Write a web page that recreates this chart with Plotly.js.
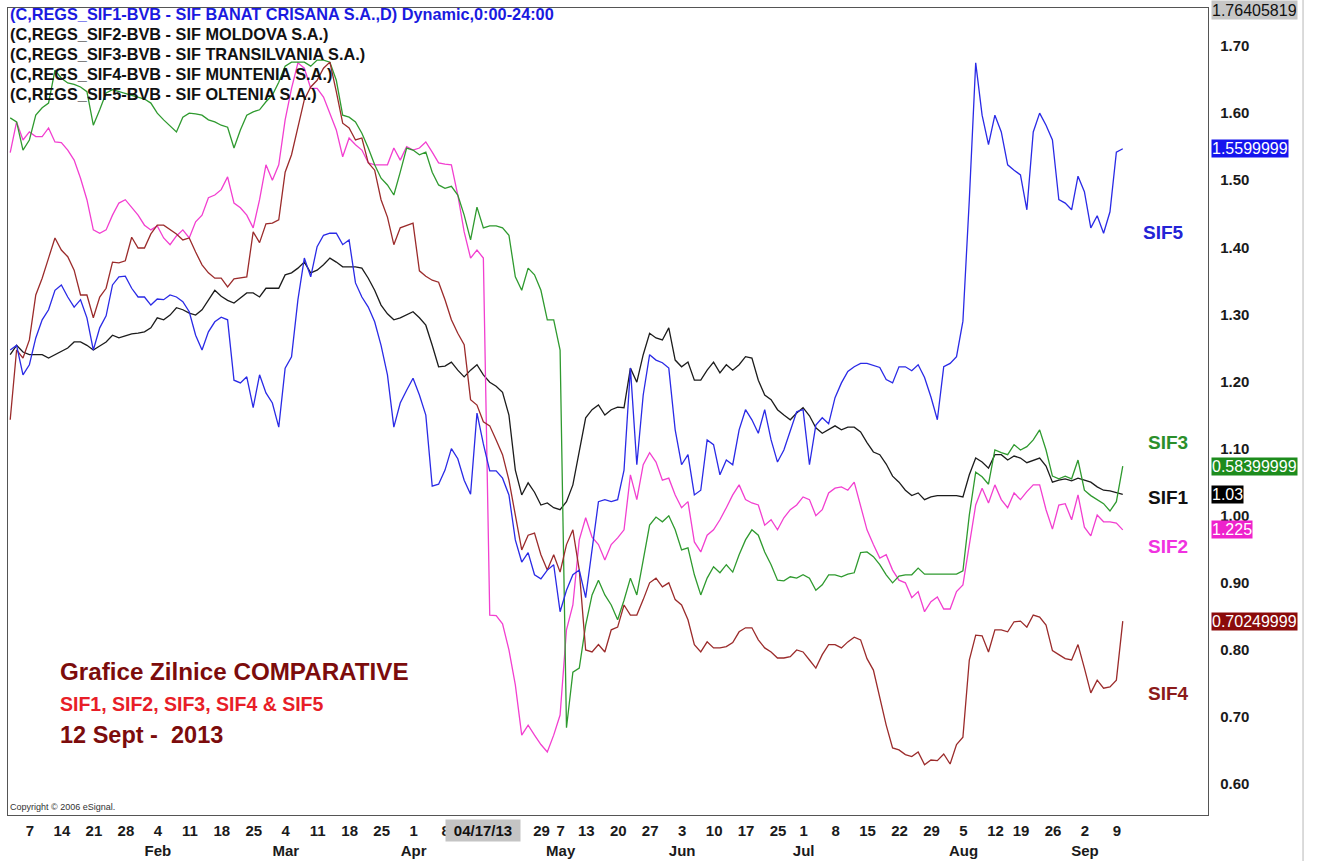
<!DOCTYPE html>
<html><head><meta charset="utf-8">
<script src="https://cdn.plot.ly/plotly-3.0.1.min.js"></script>
<style>html,body{margin:0;padding:0;background:#fff;}#chart{width:1319px;height:861px;}</style>
</head><body><div id="chart"></div>
<script>
// Trading-day series (index 0 = 3 Jan 2013), values on the chart's right scale
const sif1 = [1.240,1.254,1.244,1.240,1.240,1.240,1.235,1.240,1.244,1.250,
 1.259,1.259,1.254,1.247,1.253,1.259,1.269,1.265,1.268,1.271,
 1.272,1.274,1.280,1.295,1.292,1.299,1.310,1.307,1.302,1.299,
 1.307,1.321,1.336,1.327,1.321,1.317,1.325,1.332,1.332,1.326,
 1.339,1.339,1.339,1.359,1.362,1.369,1.378,1.362,1.366,1.374,
 1.384,1.378,1.371,1.371,1.371,1.369,1.354,1.336,1.314,1.301,
 1.292,1.295,1.299,1.304,1.295,1.284,1.254,1.222,1.223,1.229,
 1.217,1.207,1.217,1.225,1.210,1.199,1.193,1.184,1.150,1.068,
 1.031,1.049,1.035,1.016,1.019,1.012,1.009,1.021,1.046,1.098,
 1.146,1.158,1.165,1.150,1.158,1.162,1.161,1.220,1.199,1.240,
 1.272,1.265,1.262,1.280,1.232,1.222,1.229,1.202,1.202,1.217,
 1.229,1.213,1.225,1.217,1.225,1.237,1.235,1.202,1.180,1.173,
 1.158,1.150,1.143,1.153,1.161,1.149,1.131,1.123,1.128,1.134,
 1.128,1.132,1.132,1.125,1.109,1.095,1.091,1.077,1.059,1.050,
 1.038,1.030,1.034,1.024,1.028,1.030,1.030,1.030,1.030,1.028,
 1.061,1.086,1.080,1.071,1.091,1.091,1.083,1.089,1.086,1.079,
 1.082,1.086,1.074,1.050,1.053,1.055,1.052,1.056,1.053,1.050,
 1.043,1.038,1.037,1.034,1.032];

const sif2 = [1.541,1.587,1.560,1.572,1.565,1.565,1.578,1.557,1.556,1.545,
 1.530,1.503,1.471,1.426,1.421,1.426,1.448,1.466,1.471,1.459,
 1.448,1.433,1.426,1.432,1.414,1.404,1.417,1.426,1.414,1.438,
 1.448,1.474,1.478,1.486,1.505,1.466,1.459,1.448,1.429,1.471,
 1.523,1.500,1.523,1.590,1.637,1.675,1.667,1.637,1.637,1.624,
 1.600,1.575,1.535,1.563,1.553,1.545,1.526,1.523,1.523,1.523,
 1.548,1.530,1.550,1.545,1.548,1.557,1.542,1.526,1.524,1.523,
 1.478,1.423,1.384,1.396,1.384,0.852,0.851,0.839,0.800,0.748,
 0.673,0.688,0.673,0.659,0.648,0.673,0.703,0.830,0.867,0.964,
 0.997,0.968,0.957,0.934,0.957,0.967,0.979,1.061,1.024,1.076,
 1.094,1.080,1.053,1.056,1.031,1.012,1.021,0.961,0.946,0.971,
 0.979,0.994,1.012,1.031,1.046,1.024,1.019,1.016,0.986,0.994,
 0.979,0.997,1.009,1.016,1.028,1.024,1.000,1.009,1.034,1.041,
 1.043,1.038,1.050,1.016,0.979,0.957,0.937,0.942,0.919,0.904,
 0.900,0.878,0.887,0.857,0.872,0.879,0.861,0.861,0.887,0.897,
 0.957,1.016,1.041,1.019,1.046,1.024,1.012,1.034,1.024,1.036,
 1.046,1.046,1.009,0.980,1.016,1.018,0.994,1.031,0.983,0.970,
 1.001,0.991,0.991,0.989,0.979];

const sif3 = [1.593,1.587,1.545,1.560,1.597,1.608,1.615,1.664,1.652,1.645,
 1.643,1.639,1.632,1.582,1.605,1.630,1.635,1.632,1.630,1.627,
 1.623,1.621,1.615,1.600,1.590,1.581,1.572,1.594,1.600,1.599,
 1.597,1.590,1.587,1.582,1.579,1.548,1.575,1.597,1.602,1.605,
 1.617,1.627,1.646,1.670,1.676,1.676,1.676,1.670,1.679,1.679,
 1.676,1.649,1.597,1.594,1.587,1.570,1.548,1.523,1.503,1.493,
 1.478,1.512,1.548,1.545,1.538,1.542,1.512,1.493,1.488,1.491,
 1.478,1.448,1.411,1.460,1.429,1.432,1.432,1.429,1.418,1.356,
 1.336,1.369,1.359,1.336,1.292,1.292,1.247,0.684,0.767,0.773,
 0.837,0.882,0.904,0.882,0.867,0.845,0.874,0.907,0.882,0.934,
 0.986,0.998,0.991,1.000,0.979,0.949,0.952,0.912,0.882,0.907,
 0.924,0.915,0.927,0.916,0.942,0.964,0.979,0.971,0.946,0.927,
 0.904,0.903,0.909,0.907,0.912,0.907,0.889,0.897,0.912,0.912,
 0.909,0.913,0.915,0.945,0.946,0.939,0.927,0.912,0.900,0.910,
 0.912,0.912,0.922,0.913,0.913,0.913,0.913,0.913,0.913,0.918,
 1.001,1.065,1.058,1.047,1.098,1.094,1.091,1.106,1.098,1.103,
 1.113,1.128,1.098,1.059,1.055,1.059,1.055,1.083,1.038,1.030,
 1.024,1.018,1.007,1.021,1.074];

const sif4 = [1.143,1.247,1.235,1.262,1.329,1.354,1.384,1.414,1.396,1.386,
 1.366,1.329,1.329,1.295,1.326,1.339,1.378,1.377,1.380,1.415,
 1.399,1.399,1.420,1.433,1.433,1.426,1.420,1.411,1.414,1.393,
 1.374,1.362,1.354,1.354,1.341,1.353,1.354,1.356,1.423,1.407,
 1.435,1.436,1.441,1.512,1.538,1.578,1.620,1.639,1.649,1.667,
 1.676,1.632,1.585,1.578,1.560,1.563,1.526,1.515,1.471,1.445,
 1.404,1.429,1.433,1.436,1.365,1.357,1.351,1.348,1.322,1.292,
 1.272,1.255,1.173,1.165,1.140,1.134,1.113,1.091,1.053,1.001,
 0.949,0.971,0.974,0.942,0.919,0.942,0.916,0.957,0.979,0.919,
 0.800,0.797,0.808,0.797,0.830,0.834,0.867,0.852,0.852,0.875,
 0.900,0.907,0.894,0.900,0.875,0.867,0.845,0.808,0.797,0.812,
 0.803,0.803,0.805,0.811,0.827,0.833,0.833,0.815,0.803,0.797,
 0.788,0.788,0.790,0.800,0.797,0.785,0.773,0.793,0.808,0.808,
 0.803,0.812,0.819,0.815,0.787,0.770,0.729,0.688,0.654,0.651,
 0.644,0.641,0.648,0.629,0.636,0.635,0.645,0.630,0.659,0.670,
 0.785,0.822,0.821,0.797,0.830,0.830,0.827,0.842,0.843,0.834,
 0.852,0.849,0.837,0.799,0.793,0.787,0.785,0.808,0.773,0.736,
 0.755,0.743,0.745,0.755,0.843];

const sif5 = [1.247,1.254,1.210,1.225,1.265,1.292,1.307,1.336,1.344,1.326,
 1.311,1.322,1.295,1.247,1.280,1.298,1.344,1.356,1.357,1.339,
 1.326,1.326,1.314,1.323,1.322,1.329,1.326,1.319,1.304,1.269,
 1.247,1.274,1.289,1.296,1.292,1.202,1.198,1.207,1.161,1.210,
 1.183,1.168,1.132,1.220,1.237,1.322,1.384,1.356,1.401,1.418,
 1.421,1.421,1.404,1.411,1.347,1.326,1.311,1.289,1.254,1.210,
 1.132,1.168,1.187,1.205,1.180,1.150,1.044,1.047,1.068,1.100,
 1.085,1.053,1.032,1.153,1.107,1.067,1.067,1.056,1.031,0.964,
 0.931,0.945,0.912,0.906,0.919,0.927,0.857,0.889,0.912,0.919,
 0.878,0.949,1.021,1.024,1.021,1.024,1.068,1.220,1.076,1.180,
 1.240,1.232,1.228,1.220,1.128,1.076,1.091,1.031,1.038,1.113,
 1.106,1.061,1.083,1.076,1.128,1.158,1.143,1.123,1.158,1.113,
 1.080,1.098,1.128,1.155,1.158,1.076,1.135,1.146,1.137,1.176,
 1.198,1.215,1.222,1.227,1.227,1.224,1.221,1.203,1.198,1.222,
 1.222,1.216,1.225,1.206,1.177,1.143,1.222,1.227,1.237,1.290,
 1.471,1.675,1.597,1.553,1.597,1.572,1.523,1.515,1.508,1.456,
 1.572,1.600,1.582,1.560,1.471,1.466,1.456,1.506,1.483,1.429,
 1.447,1.421,1.453,1.542,1.547];

// x-axis ticks (trading-day index) and labels
const tickIdx = [2,7,12,17,22,27,32,37,42,47,52,57,62,67,82,85,89,94,99,104,109,114,119,123,128,133,138,143,148,153,157,162,167,172];
const tickLabels = ["7","14","21","28","4<br>Feb","11","18","25","4<br>Mar","11","18","25","1<br>Apr","8","29","7<br>May","13","20","27","3<br>Jun","10","17","25","1<br>Jul","8","15","22","29","5<br>Aug","12","19","26","2<br>Sep","9"];
const cursorIdx = 74;
const cursorLabel = "04/17/13";

// y-axis ticks
const yTicks = [0.6,0.7,0.8,0.9,1.0,1.1,1.2,1.3,1.4,1.5,1.6,1.7];
const yTickText = ["0.60","0.70","0.80","0.90","1.00","1.10","1.20","1.30","1.40","1.50","1.60","1.70"];

// series meta
const seriesNames = ["SIF1","SIF2","SIF3","SIF4","SIF5"];
const lastPriceText = ["1.03","1.225","0.58399999","0.70249999","1.5599999"];
const topScaleText = "1.76405819";
const legendLines = [
  "(C,REGS_SIF1-BVB - SIF BANAT CRISANA S.A.,D) Dynamic,0:00-24:00",
  "(C,REGS_SIF2-BVB - SIF MOLDOVA S.A.)",
  "(C,REGS_SIF3-BVB - SIF TRANSILVANIA S.A.)",
  "(C,REGS_SIF4-BVB - SIF MUNTENIA S.A.)",
  "(C,REGS_SIF5-BVB - SIF OLTENIA S.A.)"
];

// ---- styling / layout ----
const FONT = "Liberation Sans, Arial, Helvetica, sans-serif";
const allSeries = [sif1, sif2, sif3, sif4, sif5];
const lineColors = ["#1c1c1c", "#f23fd0", "#2f9a2f", "#9b2b2b", "#2a2ae6"];
const boxColors = ["#000000", "#ee22cc", "#1d8c1d", "#8b0a0a", "#1515ee"];
const nameColors = ["#111111", "#f032e0", "#2b8f2b", "#8b1a1a", "#2323d6"];
const nameBoxPos = [[0.9667,0.394],[0.9667,0.3333],[0.9667,0.461],[0.9667,0.15],[0.9625,0.7212]];
const legendColors = ["#1a1ae0","#111","#111","#111","#111"];
const legendY = [0.9926,0.9678,0.9430,0.9182,0.8934];

const traces = allSeries.map((s, k) => ({
  type: "scatter", mode: "lines", name: seriesNames[k],
  x: s.map((_, i) => i), y: s,
  line: {color: lineColors[k], width: 1.3},
  hoverinfo: "skip"
}));

const annotations = [];
legendLines.forEach((t, i) => annotations.push({
  xref: "paper", yref: "paper", x: 0, y: legendY[i], xanchor: "left", yanchor: "middle",
  text: "<b>" + t + "</b>", showarrow: false,
  font: {family: FONT, size: 16.3, color: legendColors[i]}
}));
allSeries.forEach((s, k) => {
  annotations.push({
    xref: "paper", yref: "y", x: 1, xshift: 3, y: s[s.length - 1],
    xanchor: "left", yanchor: "middle", text: lastPriceText[k], showarrow: false,
    bgcolor: boxColors[k], borderpad: 0, height: 17,
    font: {family: FONT, size: 16, color: "#ffffff"}
  });
  annotations.push({
    xref: "paper", yref: "paper", x: nameBoxPos[k][0], y: nameBoxPos[k][1],
    xanchor: "center", yanchor: "middle", text: "<b>" + seriesNames[k] + "</b>",
    showarrow: false, font: {family: FONT, size: 19, color: nameColors[k]}
  });
});
annotations.push({
  xref: "paper", yref: "paper", x: 1, xshift: 3, y: 1.0099, xanchor: "left", yanchor: "top",
  text: topScaleText, showarrow: false, bgcolor: "#c6c6c6", borderpad: 0, height: 18,
  font: {family: FONT, size: 16, color: "#111"}
});
annotations.push({
  xref: "x", yref: "paper", x: cursorIdx, y: 0, yshift: -4, xanchor: "center", yanchor: "top",
  text: "<b>" + cursorLabel + "</b>", showarrow: false, bgcolor: "#c4c4c4",
  width: 72, height: 19, font: {family: FONT, size: 15, color: "#111"}
});
annotations.push({
  xref: "paper", yref: "paper", x: 0.0417, y: 0.1772, xanchor: "left", yanchor: "middle",
  text: "<b>Grafice Zilnice COMPARATIVE</b>", showarrow: false,
  font: {family: FONT, size: 24.2, color: "#7c0c0c"}
});
annotations.push({
  xref: "paper", yref: "paper", x: 0.0417, y: 0.1375, xanchor: "left", yanchor: "middle",
  text: "<b>SIF1, SIF2, SIF3, SIF4 &amp; SIF5</b>", showarrow: false,
  font: {family: FONT, size: 19.5, color: "#e81e28"}
});
annotations.push({
  xref: "paper", yref: "paper", x: 0.0417, y: 0.0991, xanchor: "left", yanchor: "middle",
  text: "<b>12 Sept -  2013</b>", showarrow: false,
  font: {family: FONT, size: 23.5, color: "#7c0c0c"}
});
annotations.push({
  xref: "paper", yref: "paper", x: 0, y: 0, xanchor: "left", yanchor: "bottom", yshift: 1,
  text: "Copyright © 2006 eSignal.", showarrow: false,
  font: {family: FONT, size: 9, color: "#333"}
});

const layout = {
  width: 1319, height: 861,
  margin: {l: 8, r: 111, t: 8, b: 46},
  paper_bgcolor: "#ffffff", plot_bgcolor: "#ffffff",
  showlegend: false,
  font: {family: FONT},
  xaxis: {
    range: [-0.344, 187.33], showgrid: false, zeroline: false,
    showline: true, mirror: true, linecolor: "#555", linewidth: 1.2,
    tickmode: "array", tickvals: tickIdx, ticktext: tickLabels, ticks: "",
    tickangle: 0, ticklabelshift: 7, ticklabelstandoff: 2,
    tickfont: {family: FONT, size: 15, color: "#1a1a1a", weight: "bold"}
  },
  yaxis: {
    side: "right", range: [0.554, 1.7567], showgrid: false, zeroline: false,
    showline: true, mirror: true, linecolor: "#555", linewidth: 1.2,
    tickmode: "array", tickvals: yTicks, ticktext: yTickText, ticks: "",
    ticklabelstandoff: 8,
    tickfont: {family: FONT, size: 15, color: "#1a1a1a", weight: "bold"}
  },
  shapes: [{
    type: "line", xref: "paper", yref: "paper", x0: 1.0792, x1: 1.0792, y0: -0.06, y1: 1.02,
    line: {color: "#cfcfcf", width: 1.5}
  }],
  annotations: annotations
};

Plotly.newPlot("chart", traces, layout, {displayModeBar: false, staticPlot: true});
</script>
</body></html>
